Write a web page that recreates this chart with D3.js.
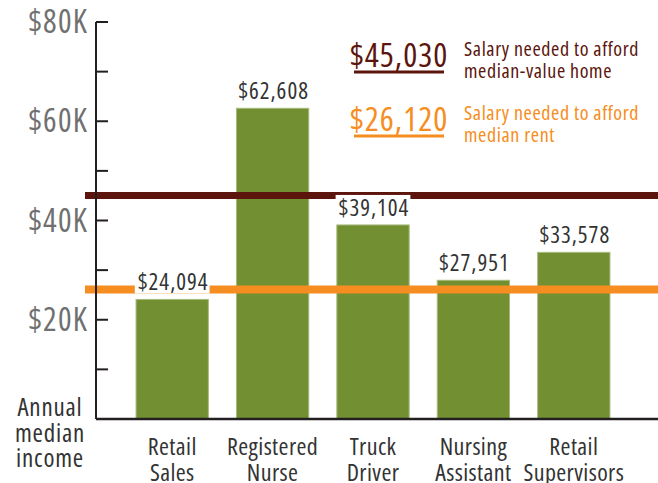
<!DOCTYPE html>
<meta charset="utf-8">
<script src="https://d3js.org/d3.v7.min.js"></script>
<style>
	body{
		margin:0;
		background:#fff;
	}
	svg text{
		font-family:'Open Sans',sans-serif;
		font-stretch:75%;
	}
</style>
<div id="chart"></div>
<script>

// occupations, two lines each
var jobs = [["Retail","Sales"],["Registered","Nurse"],["Truck","Driver"],["Nursing","Assistant"],["Retail","Supervisors"]]
var incomes = [24094, 62608, 39104, 27951, 33578]

var yTicks = [0,10000,20000,30000,40000,50000,60000,70000,80000]
var yLabels = [20000,40000,60000,80000]

// affordability thresholds
var needNames = ["Salary needed to afford|median-value home","Salary needed to afford|median rent"]
var needValues = [45030, 26120]
var needColors = ["#5b150c","#f68d20"]

var w = 658
var h = 483
var barColor = "#728f32"

var svg = d3.select("#chart").append("svg").attr("width",w).attr("height",h)

var y = d3.scaleLinear().domain([0,80000]).range([419,22])
var x = d3.scaleBand().domain(d3.range(jobs.length)).range([122,624]).paddingInner(0.28).paddingOuter(0.14)

// bars
svg.selectAll(".bar").data(incomes).enter().append("rect")
	.attr("class","bar")
	.attr("x",function(d,i){return x(i)})
	.attr("y",function(d){return y(d)})
	.attr("width",x.bandwidth())
	.attr("height",function(d){return y(0)-y(d)})
	.attr("fill",barColor)
	.attr("stroke","#a7b97c")
	.attr("stroke-width",1)

// threshold lines
svg.selectAll(".need").data(needValues).enter().append("line")
	.attr("x1",85).attr("x2",w)
	.attr("y1",function(d){return y(d)}).attr("y2",function(d){return y(d)})
	.attr("stroke",function(d,i){return needColors[i]})
	.attr("stroke-width",function(d,i){return i==0?7:8})

// y axis
var axisG = svg.append("g")
axisG.append("line").attr("x1",96).attr("x2",96).attr("y1",y(80000)).attr("y2",y(0))
	.attr("stroke","#231f20").attr("stroke-width",2)
axisG.selectAll(".tick").data(yTicks).enter().append("line")
	.attr("x1",96).attr("x2",108)
	.attr("y1",function(d){return y(d)}).attr("y2",function(d){return y(d)})
	.attr("stroke","#231f20").attr("stroke-width",2)
axisG.selectAll(".tickLabel").data(yLabels).enter().append("text")
	.attr("x",88).attr("y",function(d){return y(d)+11})
	.attr("text-anchor","end")
	.style("font-size","32px").style("letter-spacing","1.2px").attr("fill","#707070")
	.text(function(d){return "$"+(d/1000)+"K"})

// baseline
svg.append("line").attr("x1",96).attr("x2",w).attr("y1",y(0)).attr("y2",y(0))
	.attr("stroke","#231f20").attr("stroke-width",2.5)

// value labels with white backing
var vals = svg.selectAll(".val").data(incomes).enter().append("g")
vals.append("text")
	.attr("x",function(d,i){return x(i)+x.bandwidth()/2+1})
	.attr("y",function(d){return y(d)-9})
	.attr("text-anchor","middle")
	.style("font-size","23px").style("letter-spacing","1px").attr("fill","#333")
	.text(function(d){return "$"+d3.format(",")(d)})
vals.each(function(){
	var g = d3.select(this)
	var b = g.select("text").node().getBBox()
	g.insert("rect","text").attr("x",b.x-3).attr("y",b.y+4).attr("width",b.width+4).attr("height",b.height-8).attr("fill","#fff")
})

// category labels
var cats = svg.selectAll(".cat").data(jobs).enter().append("text")
	.attr("text-anchor","middle")
	.style("font-size","24px").style("letter-spacing","0.4px").attr("fill","#333")
cats.selectAll("tspan").data(function(d,i){return d.map(function(t){return {t:t,i:i}})}).enter().append("tspan")
	.attr("x",function(d){return x(d.i)+x.bandwidth()/2})
	.attr("y",function(d,j){return 455+j*26})
	.text(function(d){return d.t})

// y title
svg.append("text").attr("text-anchor","middle").style("font-size","25px").style("letter-spacing","0.8px").attr("fill","#333")
	.selectAll("tspan").data(["Annual","median","income"]).enter().append("tspan")
	.attr("x",50).attr("y",function(d,j){return 416+j*25.5})
	.text(function(d){return d})

// legend
var leg = svg.selectAll(".leg").data(needValues).enter().append("g")
	.attr("transform",function(d,i){return "translate(0,"+(i*64)+")"})
leg.append("text").attr("x",399).attr("y",67).attr("text-anchor","middle")
	.style("font-size","33px").style("letter-spacing","1px").attr("fill",function(d,i){return needColors[i]})
	.text(function(d){return "$"+d3.format(",")(d)})
leg.append("line").attr("x1",354).attr("x2",444).attr("y1",72).attr("y2",72)
	.attr("stroke",function(d,i){return needColors[i]}).attr("stroke-width",3)
leg.append("text").attr("fill",function(d,i){return needColors[i]})
	.style("font-size","20px").style("font-weight","500").style("letter-spacing","0.6px")
	.selectAll("tspan").data(function(d,i){return needNames[i].split("|")}).enter().append("tspan")
	.attr("x",464).attr("y",function(d,j){return 56+j*22})
	.text(function(d){return d})

</script>
